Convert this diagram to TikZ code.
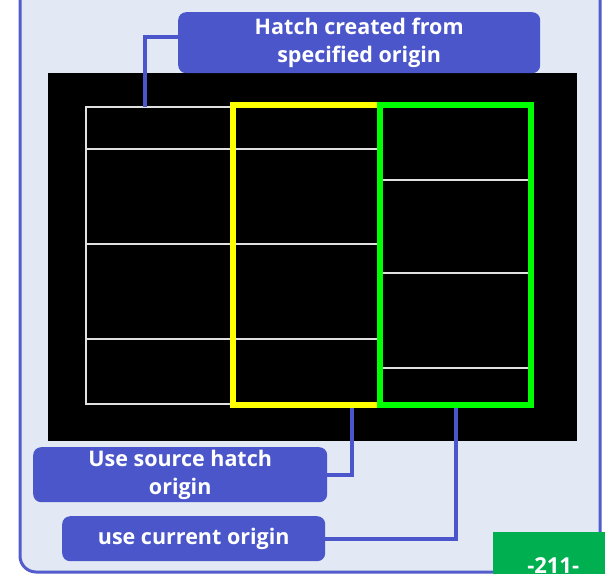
\documentclass[tikz,border=0pt]{standalone}
\usepackage{fontspec}
\setmainfont{Open Sans}
\usetikzlibrary{positioning,calc}
\definecolor{panelbg}{RGB}{226,233,244}
\definecolor{panelrim}{RGB}{82,92,204}
\definecolor{tagblue}{RGB}{74,86,202}
\definecolor{hatchyellow}{RGB}{255,255,0}
\definecolor{hatchgreen}{RGB}{0,255,0}
\definecolor{pagegreen}{RGB}{0,176,80}
\tikzset{
  callout/.style={fill=tagblue, rounded corners=8pt, text=white, anchor=north west,
    font=\bfseries\fontsize{21.5}{28}\selectfont, align=center, inner sep=0pt},
  leader/.style={draw=tagblue, line width=4pt},
  hatchline/.style={draw=black!12, line width=1.3pt},
  bound/.style={line width=6pt},
}

\begin{document}
\begin{tikzpicture}[x=1pt, y=-1pt]
  \useasboundingbox (0,0) rectangle (605,573);
  \clip (0,0) rectangle (605,573);
  % panel and drawing area
  \draw[panelrim, line width=3pt, fill=panelbg, rounded corners=16pt] (20,-30) rectangle (600,572);
  \fill[black] (48,73) rectangle (577,441);

  % source hatch, left part
  \draw[hatchline] (86,107) rectangle (380,404);
  \foreach \y in {149,244,339}
    \draw[hatchline] (86,\y) -- (380,\y);
  % hatch re-created on the right
  \foreach \y in {180,273,368}
    \draw[hatchline] (380,\y) -- (531,\y);

  % boundaries
  \draw[bound, hatchyellow] (233,105) rectangle (380,405);
  \draw[bound, hatchgreen] (380,105) rectangle (531,405);

  \coordinate (srcpt) at (145,107);
  \coordinate (yelbot) at (352,408);
  \coordinate (grnbot) at (456,408);

  % callouts
  \node[callout, minimum width=362pt, minimum height=61pt] (spec) at (178,12)
    {Hatch created from\\specified origin};
  \node[callout, minimum width=294pt, minimum height=55pt] (source) at (33,447)
    {Use source hatch\\origin};
  \node[callout, minimum width=263pt, minimum height=45pt] (current) at (62,516)
    {use current origin};

  \draw[leader] ([yshift=6pt]spec.west) -| (srcpt);
  \draw[leader] (yelbot) |- (source.east);
  \draw[leader] (grnbot) |- (current.east);

  % page number
  \node[fill=pagegreen, text=white, anchor=north west, minimum width=120pt, minimum height=66pt,
    font=\bfseries\fontsize{22}{26}\selectfont] (page) at (493,532) {-211-};
\end{tikzpicture}
\end{document}
